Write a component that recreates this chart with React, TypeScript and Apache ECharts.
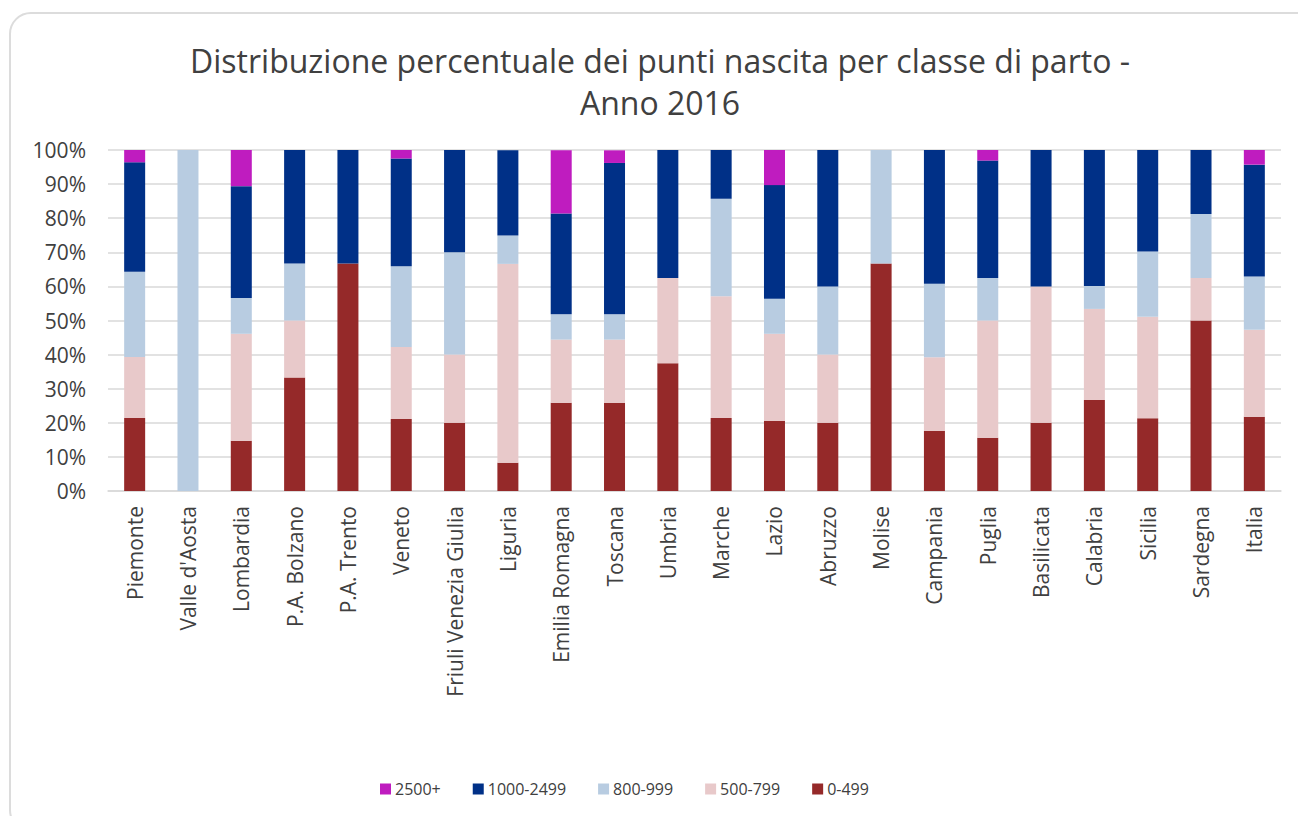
import React, { useEffect, useRef } from "react";
import * as echarts from "echarts";

const categories = [
  "Piemonte", "Valle d'Aosta", "Lombardia", "P.A. Bolzano", "P.A. Trento", "Veneto",
  "Friuli Venezia Giulia", "Liguria", "Emilia Romagna", "Toscana", "Umbria", "Marche",
  "Lazio", "Abruzzo", "Molise", "Campania", "Puglia", "Basilicata", "Calabria",
  "Sicilia", "Sardegna", "Italia",
];

const s0_499 = [21.4, 0, 14.7, 33.3, 66.7, 21.1, 20, 8.3, 25.9, 25.9, 37.5, 21.4, 20.5, 20, 66.7, 17.6, 15.6, 20, 26.7, 21.3, 50, 21.8];
const s500_799 = [17.9, 0, 31.4, 16.7, 0, 21.1, 20, 58.3, 18.5, 18.5, 25, 35.7, 25.6, 20, 0, 21.6, 34.4, 40, 26.7, 29.8, 12.5, 25.5];
const s800_999 = [25.0, 100, 10.5, 16.7, 0, 23.7, 30, 8.3, 7.4, 7.4, 0, 28.6, 10.3, 20, 33.3, 21.6, 12.5, 0, 6.7, 19.1, 18.75, 15.6];
const s1000_2499 = [32.1, 0, 32.8, 33.3, 33.3, 31.6, 30, 25, 29.6, 44.4, 37.5, 14.3, 33.3, 40, 0, 39.2, 34.4, 40, 40, 29.8, 18.75, 32.8];
const s2500 = [3.6, 0, 10.6, 0, 0, 2.6, 0, 0, 18.5, 3.7, 0, 0, 10.3, 0, 0, 0, 3.1, 0, 0, 0, 0, 4.3];

const seriesNames = ["0-499", "500-799", "800-999", "1000-2499", "2500+"];
const seriesData = [s0_499, s500_799, s800_999, s1000_2499, s2500];
const seriesColors = ["#952929", "#E8C9CA", "#B8CCE1", "#003087", "#BF1CBF"];
const legendOrder = ["2500+", "1000-2499", "800-999", "500-799", "0-499"];
const yTicks = { min: 0, max: 100, interval: 10 };

const FONT = "'Open Sans', 'Noto Sans', sans-serif";
const TEXT = "#404040";

export default function App() {
  const ref = useRef<HTMLDivElement>(null);
  useEffect(() => {
    if (!ref.current) return;
    const chart = echarts.init(ref.current, undefined, { renderer: "svg" });
    chart.setOption({
      animation: false,
      textStyle: { fontFamily: FONT },
      graphic: [
        {
          type: "text",
          x: 660,
          y: 81,
          style: {
            text: "Distribuzione percentuale dei punti nascita per classe di parto -\nAnno 2016",
            font: `32px ${FONT}`,
            fill: TEXT,
            textAlign: "center",
            textVerticalAlign: "middle",
            lineHeight: 42,
          },
        },
      ],
      legend: {
        data: legendOrder,
        left: 375,
        top: 776,
        itemWidth: 11,
        itemHeight: 11,
        itemGap: 32,
        icon: "rect",
        textStyle: { fontFamily: FONT, fontSize: 16, color: TEXT, padding: [0, 0, 0, -1] },
      },
      grid: { left: 108, right: 17, top: 150, bottom: 325, containLabel: false },
      xAxis: {
        type: "category",
        data: categories,
        axisLine: { show: true, lineStyle: { color: "#d9d9d9", width: 1.5 } },
        axisTick: { show: false },
        axisLabel: {
          rotate: 90,
          interval: 0,
          margin: 15,
          fontFamily: FONT,
          fontSize: 21,
          color: TEXT,
        },
      },
      yAxis: {
        type: "value",
        min: yTicks.min,
        max: yTicks.max,
        interval: yTicks.interval,
        axisLine: { show: false },
        axisTick: { show: false },
        splitLine: { lineStyle: { color: "#d9d9d9", width: 1.5 } },
        axisLabel: {
          formatter: "{value}%",
          margin: 22,
          fontFamily: FONT,
          fontSize: 21,
          color: TEXT,
        },
      },
      series: seriesNames.map((name, i) => ({
        name,
        type: "bar",
        stack: "total",
        barWidth: 21,
        data: seriesData[i],
        itemStyle: { color: seriesColors[i] },
      })),
    });
    return () => chart.dispose();
  }, []);

  return (
    <div style={{ position: "fixed", left: 0, top: 0, width: 1298, height: 816, background: "#fff", overflow: "hidden" }}>
      <div
        style={{
          position: "absolute",
          left: 9,
          top: 12,
          width: 1310,
          height: 820,
          border: "2px solid #dcdcdc",
          borderRadius: 22,
          boxSizing: "border-box",
        }}
      />
      <div ref={ref} style={{ position: "absolute", left: 0, top: 0, width: 1298, height: 816 }} />
    </div>
  );
}
